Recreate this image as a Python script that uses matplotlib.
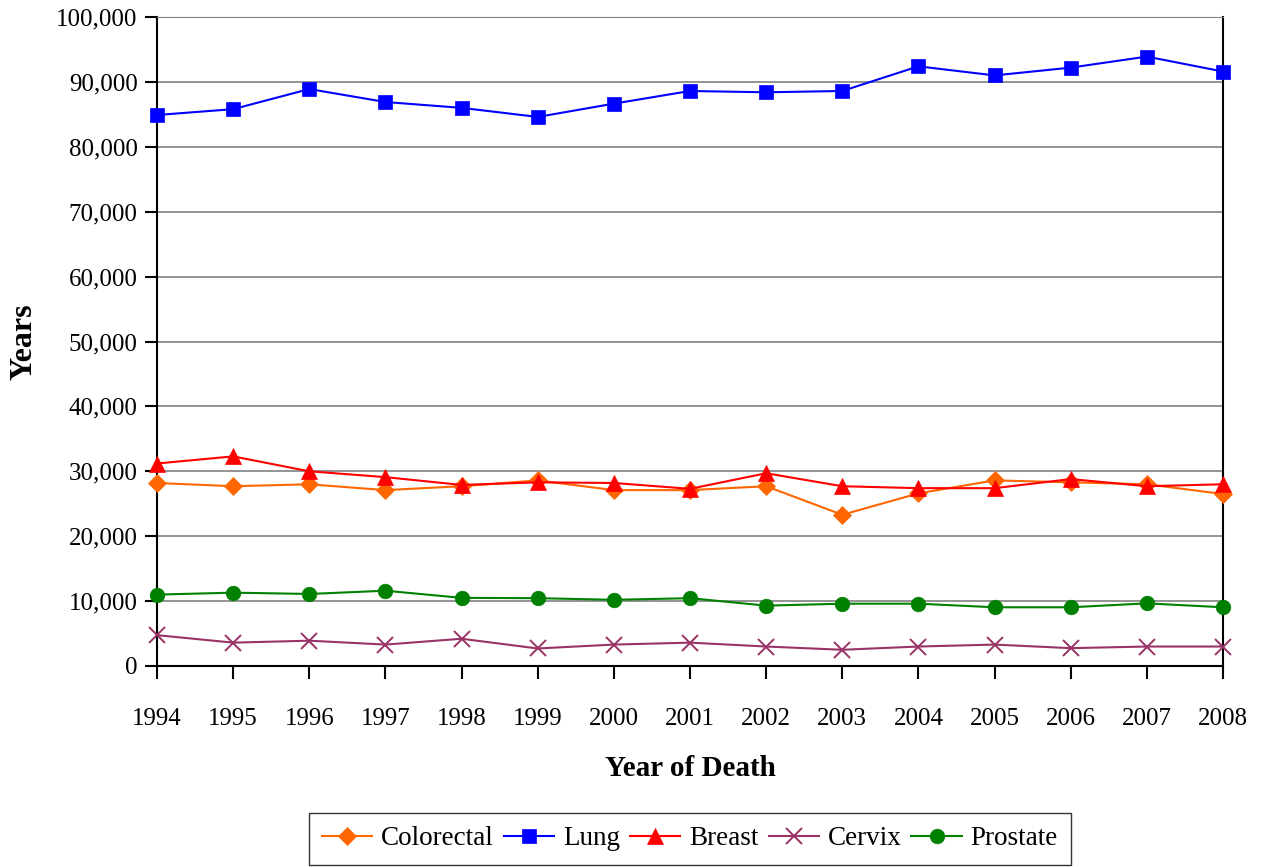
import matplotlib.pyplot as plt
from matplotlib.ticker import FuncFormatter

# Дані: роки та значення для кожного виду раку
years = [1994, 1995, 1996, 1997, 1998, 1999, 2000, 2001,
         2002, 2003, 2004, 2005, 2006, 2007, 2008]
colorectal = [28200, 27700, 28000, 27100, 27700, 28600, 27100, 27100,
              27700, 23300, 26600, 28600, 28300, 28000, 26500]
lung = [84900, 85800, 88900, 86900, 86000, 84600, 86650, 88600,
        88400, 88600, 92400, 91000, 92200, 93900, 91600]
breast = [31200, 32300, 30000, 29100, 27900, 28300, 28200, 27300,
          29700, 27700, 27400, 27400, 28800, 27700, 28000]
cervix = [4750, 3600, 3900, 3300, 4200, 2700, 3300, 3600,
          3000, 2500, 3000, 3300, 2750, 3000, 3000]
prostate = [11000, 11300, 11100, 11600, 10500, 10450, 10200, 10450,
            9300, 9600, 9600, 9050, 9050, 9650, 9050]

plt.rcParams['font.family'] = ['Liberation Serif', 'DejaVu Serif']

fig = plt.figure(figsize=(12.65, 8.67), dpi=100)
ax = fig.add_axes([157 / 1265, 1 - 666 / 867, (1223 - 157) / 1265, (666 - 17) / 867])

series = [
    ('Colorectal', colorectal, '#FF6600', 'D', 9.5),
    ('Lung', lung, '#0000FF', 's', 10.5),
    ('Breast', breast, '#FF0000', '^', 12),
    ('Cervix', cervix, '#993366', 'x', 11.5),
    ('Prostate', prostate, '#008000', 'o', 10.5),
]
for name, vals, col, mk, ms in series:
    ax.plot(years, vals, color=col, marker=mk, markersize=ms, lw=1.5,
            markeredgewidth=1.4 if mk == 'x' else 0.5, label=name,
            clip_on=False, zorder=3)

ax.set_xlim(1994, 2008)
ax.set_ylim(0, 100000)
ax.set_xticks(years)
ax.set_yticks(range(0, 100001, 10000))
ax.yaxis.set_major_formatter(FuncFormatter(lambda v, p: f'{int(v):,}'))
ax.grid(axis='y', color='#808080', lw=1.2)
ax.set_axisbelow(True)

for s in ['left', 'bottom', 'right']:
    ax.spines[s].set_color('black')
    ax.spines[s].set_linewidth(1.5)
ax.spines['top'].set_color('#808080')

ax.tick_params(axis='x', labelsize=18, length=9, width=1.5, pad=21)
ax.tick_params(axis='y', labelsize=18, length=9, width=1.5, pad=5)

ax.set_xlabel('Year of Death', fontsize=21, fontweight='bold', labelpad=18)
ax.set_ylabel('Years', fontsize=23, fontweight='bold', labelpad=13)

# легенда під областю графіка, по центру осей
leg = fig.legend(loc='lower center', bbox_to_anchor=(690 / 1265, 2 / 867), ncol=5,
                 fontsize=19.5, frameon=True, fancybox=False, edgecolor='black',
                 handlelength=1.85, columnspacing=0.37, handletextpad=0.33,
                 borderpad=0.5, borderaxespad=0)
leg.get_frame().set_linewidth(1.0)

fig.savefig('out.png', dpi=100)
